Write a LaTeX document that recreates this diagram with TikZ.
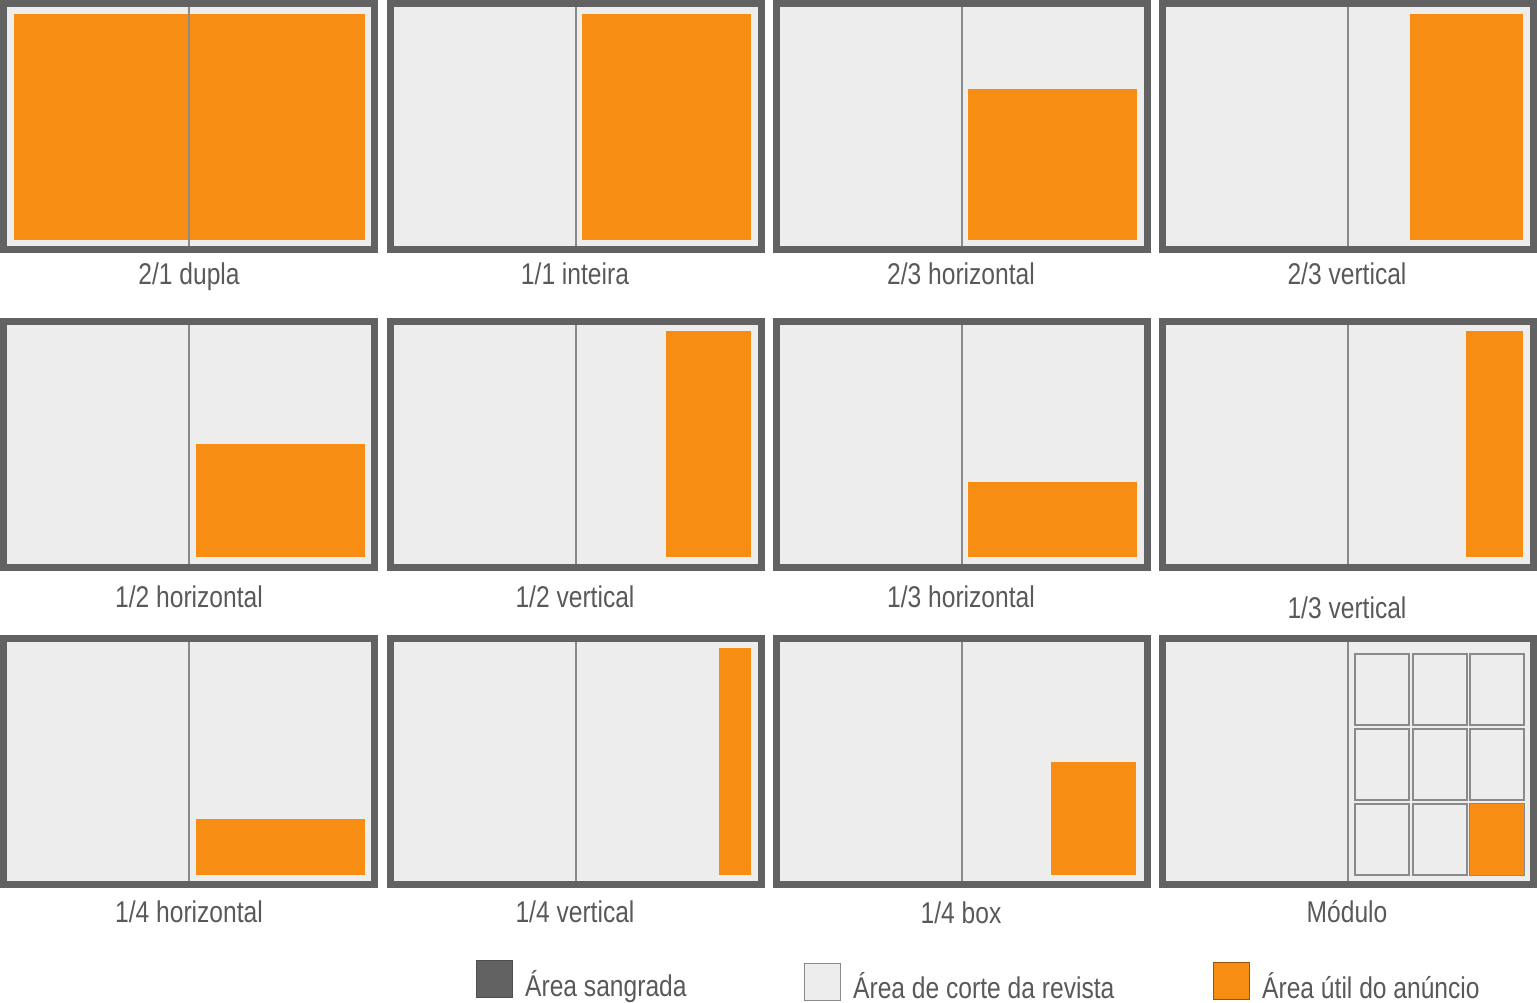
\documentclass[tikz,border=0pt]{standalone}
\usepackage{fontspec}
\setmainfont{Liberation Sans}[FakeStretch=0.82]
\definecolor{frameDark}{HTML}{636262}
\definecolor{pageLight}{HTML}{EDEDED}
\definecolor{adOrange}{HTML}{F78D12}
\definecolor{foldGray}{HTML}{8A8A8A}
\definecolor{txtGray}{HTML}{595959}
\tikzset{
  pageframe/.style={draw=frameDark, line width=7pt, fill=pageLight},
  adarea/.style={fill=adOrange, draw=none},
  foldline/.style={draw=foldGray, line width=1.1pt},
  modcell/.style={draw=foldGray, line width=1.2pt, fill=pageLight},
  lbl/.style={font=\fontsize{30}{36}\selectfont, text=txtGray, anchor=base, inner sep=0pt},
  legtxt/.style={font=\fontsize{30}{36}\selectfont, text=txtGray, anchor=base west, inner sep=0pt},
  legbox/.style={minimum width=36pt, minimum height=37pt, inner sep=0pt, anchor=north west, line width=1pt}
}
\begin{document}
\begin{tikzpicture}[x=1pt,y=-1pt]
\useasboundingbox (0,0) rectangle (1537,1003);
% panels: origin x, origin y, orange x1,y1,x2,y2 (relative)
\foreach \px/\py/\ax/\ay/\bx/\by [count=\i] in {
   0/0/14/14/365/240,
   387/0/195/14/364/240,
   773/0/195/89/364/240,
   1159/0/251/14/364/240,
   0/318/196/126/365/239,
   387/318/279/13/364/239,
   773/318/195/164/364/239,
   1159/318/307/13/364/239,
   0/635/196/184/365/240,
   387/635/332/13/364/240,
   773/635/278/127/363/240,
   1159/635/311/169/365/240}{
  \begin{scope}[shift={(\px,\py)}]
    \draw[pageframe] (3.5,3.5) rectangle (374.5,249.5);
    \ifnum\i=12
      \foreach \cx in {196,254,311}{
        \foreach \cy in {19,94,169}{
          \draw[modcell] (\cx,\cy) rectangle ++(54,71);
        }
      }
    \fi
    \fill[adarea] (\ax,\ay) rectangle (\bx,\by);
    \draw[foldline] (189,7) -- (189,246);
  \end{scope}
}
% labels
\node[lbl] (l1) at (189,284) {2/1 dupla};
\node[lbl] (l2) at (575,284) {1/1 inteira};
\node[lbl] (l3) at (961,284) {2/3 horizontal};
\node[lbl] (l4) at (1347,284) {2/3 vertical};
\node[lbl] (l5) at (189,607) {1/2 horizontal};
\node[lbl] (l6) at (575,607) {1/2 vertical};
\node[lbl] (l7) at (961,607) {1/3 horizontal};
\node[lbl] (l8) at (1347,618) {1/3 vertical};
\node[lbl] (l9) at (189,922) {1/4 horizontal};
\node[lbl] (l10) at (575,922) {1/4 vertical};
\node[lbl] (l11) at (961,923) {1/4 box};
\node[lbl] (l12) at (1347,922) {Módulo};
% legend
\node[legbox, fill=frameDark, draw=frameDark!80!black] (k1) at (476,960) {};
\node[legtxt] (t1) at (525,996) {Área sangrada};
\node[legbox, fill=pageLight, draw=foldGray] (k2) at (804,963) {};
\node[legtxt] (t2) at (853,998) {Área de corte da revista};
\node[legbox, fill=adOrange, draw=adOrange!60!black] (k3) at (1213,962) {};
\node[legtxt] (t3) at (1262,998) {Área útil do anúncio};
\end{tikzpicture}
\end{document}
